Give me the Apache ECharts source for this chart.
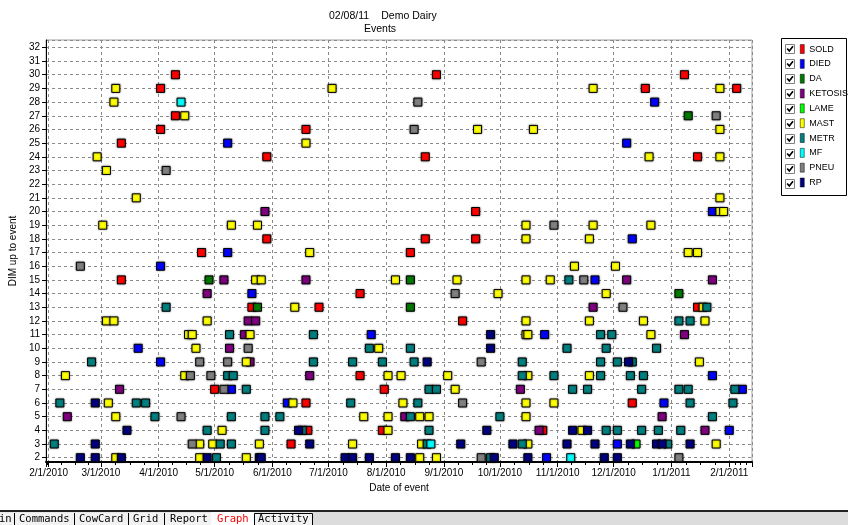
<!DOCTYPE html>
<html><head><meta charset="utf-8">
<script src="https://cdn.jsdelivr.net/npm/echarts@6/dist/echarts.min.js"></script>
<style>html,body{margin:0;padding:0;background:#fff;}#c{width:848px;height:525px;}</style>
</head><body><div id="c"></div>
<script>
// ---- data (date of event, DIM up to event) ----
const sold = [['2010-04-10',30],['2010-04-02',29],['2010-04-10',27],['2010-04-02',26],['2010-03-12',25],['2010-05-29',24],['2010-08-28',30],['2010-06-19',26],['2010-08-22',24],['2011-01-08',30],['2010-12-18',29],['2011-02-05',29],['2011-01-15',24],['2010-05-29',18],['2010-04-24',17],['2010-03-12',15],['2010-05-21',13],['2010-09-18',20],['2010-08-22',18],['2010-09-18',18],['2010-08-14',17],['2010-07-18',14],['2010-06-26',13],['2010-09-11',12],['2011-01-15',13],['2010-05-01',7],['2010-06-11',3],['2010-06-19',6],['2010-07-18',8],['2010-07-31',7],['2010-07-30',4],['2010-06-20',4],['2010-12-11',6],['2010-10-24',4]];
const died = [['2010-05-08',25],['2010-12-23',28],['2010-12-08',25],['2010-05-08',17],['2010-04-02',16],['2010-05-21',14],['2011-01-23',20],['2010-12-11',18],['2010-11-21',15],['2010-03-21',10],['2010-04-02',9],['2010-05-10',7],['2010-06-09',6],['2010-07-24',11],['2010-10-25',11],['2011-01-23',8],['2011-02-08',7],['2010-12-28',6],['2011-02-01',4],['2010-12-03',3],['2010-10-26',2]];
const da = [['2011-01-10',27],['2010-04-28',15],['2010-05-24',13],['2010-08-14',15],['2010-08-14',13],['2011-01-05',14]];
const ketosis = [['2010-05-28',20],['2010-05-06',15],['2010-04-27',14],['2010-05-19',12],['2010-05-23',12],['2010-06-19',15],['2010-12-08',15],['2011-01-23',15],['2010-11-20',13],['2010-05-17',11],['2010-05-09',10],['2010-05-20',9],['2010-03-11',7],['2010-02-11',5],['2010-06-21',8],['2010-10-12',7],['2010-08-11',5],['2011-01-08',11],['2010-12-27',5],['2010-10-22',4],['2011-01-19',4]];
const lame = [['2010-12-13',3]];
const mast = [['2010-03-09',29],['2010-07-03',29],['2010-11-20',29],['2011-01-27',29],['2010-03-08',28],['2010-04-15',27],['2010-09-19',26],['2010-10-19',26],['2011-01-27',26],['2010-06-19',25],['2010-02-27',24],['2010-12-20',24],['2011-01-27',24],['2010-03-04',23],['2010-03-20',21],['2011-01-27',21],['2011-01-27',20],['2011-01-29',20],['2010-03-02',19],['2010-05-10',19],['2010-05-24',19],['2010-10-15',19],['2010-11-20',19],['2010-12-21',19],['2010-10-15',18],['2010-11-18',18],['2010-06-21',17],['2011-01-10',17],['2011-01-15',17],['2010-11-10',16],['2010-12-02',16],['2010-05-23',15],['2010-05-26',15],['2010-08-06',15],['2010-09-08',15],['2010-10-15',15],['2010-10-28',15],['2010-09-30',14],['2010-11-27',14],['2010-06-13',13],['2011-01-18',13],['2010-03-04',12],['2010-03-08',12],['2010-04-27',12],['2010-10-15',12],['2010-11-18',12],['2010-12-17',12],['2011-01-19',12],['2010-04-17',11],['2010-04-19',11],['2010-05-20',11],['2010-10-15',11],['2010-10-16',11],['2010-12-21',11],['2010-04-21',10],['2010-07-28',10],['2010-05-18',9],['2011-01-16',9],['2010-02-10',8],['2010-04-15',8],['2010-08-02',8],['2010-08-09',8],['2010-09-03',8],['2010-10-16',8],['2010-11-18',8],['2010-09-07',7],['2010-03-05',6],['2010-06-12',6],['2010-08-10',6],['2010-10-15',6],['2010-10-30',6],['2010-03-09',5],['2010-07-20',5],['2010-08-02',5],['2010-08-19',5],['2010-08-24',5],['2010-10-15',5],['2010-05-05',4],['2010-08-02',4],['2010-11-14',4],['2010-04-23',3],['2010-04-30',3],['2010-05-25',3],['2010-07-14',3],['2010-08-20',3],['2010-10-16',3],['2011-01-25',3],['2010-03-09',2],['2010-04-23',2],['2010-05-18',2],['2010-08-19',2],['2010-08-28',2]];
const metr = [['2010-04-05',13],['2011-01-20',13],['2010-11-07',15],['2011-01-05',12],['2011-01-11',12],['2010-05-09',11],['2010-06-23',11],['2010-11-24',11],['2010-11-30',11],['2010-07-23',10],['2010-08-14',10],['2010-11-06',10],['2010-11-27',10],['2010-12-24',10],['2010-02-24',9],['2010-06-23',9],['2010-07-14',9],['2010-07-30',9],['2010-08-16',9],['2010-10-13',9],['2010-11-24',9],['2010-12-03',9],['2010-12-11',9],['2010-05-08',8],['2010-05-11',8],['2010-10-13',8],['2010-10-30',8],['2010-11-24',8],['2010-12-10',8],['2010-12-17',8],['2010-05-18',7],['2010-08-24',7],['2010-08-28',7],['2010-11-09',7],['2010-11-17',7],['2010-12-16',7],['2011-01-05',7],['2011-01-10',7],['2011-02-04',7],['2010-02-07',6],['2010-03-20',6],['2010-03-25',6],['2010-07-13',6],['2010-08-18',6],['2011-01-11',6],['2011-02-03',6],['2010-03-30',5],['2010-05-10',5],['2010-05-28',5],['2010-06-05',5],['2010-08-14',5],['2010-10-01',5],['2011-01-23',5],['2010-04-27',4],['2010-05-28',4],['2010-06-17',4],['2010-08-24',4],['2010-11-27',4],['2010-12-03',4],['2010-12-16',4],['2010-12-25',4],['2011-01-06',4],['2010-02-04',3],['2010-05-04',3],['2010-05-10',3],['2010-08-23',3],['2010-10-13',3],['2010-12-30',3],['2010-05-02',2],['2010-09-26',2]];
const mf = [['2010-04-13',28],['2010-08-25',3],['2010-11-08',2]];
const pneu = [['2010-04-05',23],['2010-08-18',28],['2010-08-16',26],['2010-02-18',16],['2010-09-07',14],['2010-10-30',19],['2010-11-15',15],['2010-12-06',13],['2011-01-25',27],['2010-05-19',10],['2010-04-23',9],['2010-05-08',9],['2010-04-18',8],['2010-04-29',8],['2010-05-06',7],['2010-04-13',5],['2010-04-19',3],['2010-09-21',9],['2010-09-11',6],['2010-09-21',2],['2011-01-05',2]];
const rp = [['2010-02-26',6],['2010-03-15',4],['2010-02-26',3],['2010-02-18',2],['2010-02-26',2],['2010-03-12',2],['2010-04-27',2],['2010-05-25',2],['2010-05-26',2],['2010-09-26',11],['2010-09-26',10],['2010-08-23',9],['2010-09-24',4],['2010-06-15',4],['2010-06-21',3],['2010-09-10',3],['2010-10-08',3],['2010-07-10',2],['2010-07-14',2],['2010-07-23',2],['2010-08-06',2],['2010-08-14',2],['2010-09-28',2],['2010-10-16',2],['2010-12-09',9],['2010-11-09',4],['2010-11-17',4],['2010-11-06',3],['2010-11-21',3],['2010-12-10',3],['2010-12-24',3],['2010-12-27',3],['2011-01-11',3],['2010-11-26',2],['2010-12-03',2]];

const seriesNames = ['SOLD','DIED','DA','KETOSIS','LAME','MAST','METR','MF','PNEU','RP'];
const seriesColors = ['#ff0000','#0000ff','#007a00','#800080','#00ff00','#ffff00','#008080','#00ffff','#808080','#000080'];
const seriesData = [sold, died, da, ketosis, lame, mast, metr, mf, pneu, rp];
const titleDate = '02/08/11';
const titleFarm = 'Demo Dairy';
const titleSub = 'Events';
const xName = 'Date of event';
const yName = 'DIM up to event';
const tabs = ['in','Commands','CowCard','Grid','Report','Graph','Activity'];

function toTime(s){const p=s.split('-');return new Date(+p[0],+p[1]-1,+p[2]).getTime();}

const FONT = 'Liberation Sans, Arial, sans-serif';
const chart = echarts.init(document.getElementById('c'), null, {renderer:'canvas'});

const graphics = [];
graphics.push({type:'text', x:349, y:16, style:{text:titleDate, font:'10.5px '+FONT, fill:'#000', align:'center', verticalAlign:'middle'}});
graphics.push({type:'text', x:409, y:16, style:{text:titleFarm, font:'10.5px '+FONT, fill:'#000', align:'center', verticalAlign:'middle'}});
graphics.push({type:'text', x:380, y:29, style:{text:titleSub, font:'10.5px '+FONT, fill:'#000', align:'center', verticalAlign:'middle'}});
// legend box and checkboxes
graphics.push({type:'rect', shape:{x:781.5,y:38.5,width:65,height:157}, style:{fill:'#fff', stroke:'#000', lineWidth:1}, z:-1});
seriesNames.forEach((n,i)=>{
  const cy = 49 + 15*i;
  graphics.push({type:'rect', shape:{x:785.5,y:cy-4.5,width:9,height:9}, style:{fill:'#fff', stroke:'#808080', lineWidth:1}});
  graphics.push({type:'polyline', shape:{points:[[787.2,cy-0.5],[789.3,cy+2],[793,cy-2.8]]}, style:{stroke:'#000', lineWidth:1.7, fill:null}});
});
// tab bar
graphics.push({type:'rect', shape:{x:0,y:511,width:848,height:14}, style:{fill:'#dcdcdc'}});
graphics.push({type:'line', shape:{x1:0,y1:511,x2:848,y2:511}, style:{stroke:'#222', lineWidth:2}});
graphics.push({type:'rect', shape:{x:0,y:512.5,width:313,height:13}, style:{fill:'#f2f2f2'}});
graphics.push({type:'rect', shape:{x:211,y:512,width:43,height:13}, style:{fill:'#ffffff'}});
graphics.push({type:'rect', shape:{x:254.5,y:513.5,width:58,height:12}, style:{fill:'#f2f2f2', stroke:'#000', lineWidth:1}});
[14.5,74.5,128.5,164.5].forEach(x=>graphics.push({type:'line', shape:{x1:x,y1:513,x2:x,y2:525}, style:{stroke:'#000', lineWidth:1}}));
const tabX = [-1,19,79,133,170,217,258];
tabs.forEach((t,i)=>{
  graphics.push({type:'text', x:tabX[i], y:519.5, style:{text:t, font:'10.5px DejaVu Sans Mono, monospace', fill: t==='Graph' ? '#ff0000' : '#000', align:'left', verticalAlign:'middle'}});
});

const series = seriesNames.map((n,i)=>({
  name:n, type:'scatter', symbol:'rect', symbolSize:8,
  data: seriesData[i].map(p=>[toTime(p[0]), p[1]]),
  itemStyle:{color:seriesColors[i], borderColor:'#000', borderWidth:1, shadowBlur:2, shadowColor:'rgba(0,0,0,0.45)', opacity:1},
  emphasis:{disabled:true},
  z: 2 + i
}));

const DAY = 86400000;
chart.setOption({
  animation:false,
  backgroundColor:'#fff',
  graphic: graphics,
  legend:{
    data: seriesNames, orient:'vertical', left:800, top:44.3, itemGap:5.33, padding:0,
    itemWidth:4, itemHeight:9, icon:'rect', selectedMode:false,
    itemStyle:{borderColor:'#000', borderWidth:0.5, shadowBlur:0},
    textStyle:{fontSize:9, lineHeight:9, fontFamily:FONT, color:'#000', padding:[0,0,0,0]}
  },
  grid:{left:44, right:96, top:40, bottom:63, show:true, borderColor:'#a0a0a0', borderWidth:1, containLabel:false},
  xAxis:{
    type:'time',
    min: new Date(2010,0,30,14).getTime(),
    max: new Date(2011,1,13,5).getTime(),
    splitNumber:13, minInterval:28*DAY, maxInterval:31*DAY,
    name:xName, nameLocation:'middle', nameGap:17,
    nameTextStyle:{fontSize:10, fontFamily:FONT, color:'#000'},
    axisLine:{show:true, lineStyle:{color:'#000', width:2}},
    axisTick:{show:true, length:5, lineStyle:{color:'#000'}},
    minorTick:{show:true, splitNumber:4, length:3, lineStyle:{color:'#000'}},
    axisLabel:{fontSize:10, fontFamily:FONT, color:'#000', margin:6, hideOverlap:false,
      formatter:(v)=>{const d=new Date(v);return (d.getMonth()+1)+'/'+d.getDate()+'/'+d.getFullYear();}},
    splitLine:{show:true, lineStyle:{color:'#8a8a8a', type:[3,3], width:1}}
  },
  yAxis:{
    type:'value', min:1.686, max:32.54, splitNumber:30,
    name:yName, nameLocation:'middle', nameGap:27, nameRotate:90,
    nameTextStyle:{fontSize:10, fontFamily:FONT, color:'#000'},
    axisLine:{show:true, lineStyle:{color:'#000', width:1}},
    axisTick:{show:true, length:4, lineStyle:{color:'#000'}},
    axisLabel:{fontSize:10, fontFamily:FONT, color:'#000', margin:6,
      formatter:(v)=> (Math.abs(v-Math.round(v))<1e-6 ? String(Math.round(v)) : ''),
      showMinLabel:false, showMaxLabel:false},
    splitLine:{show:true, lineStyle:{color:'#8a8a8a', type:[3,3], width:1}}
  },
  series: series
});
</script></body></html>
